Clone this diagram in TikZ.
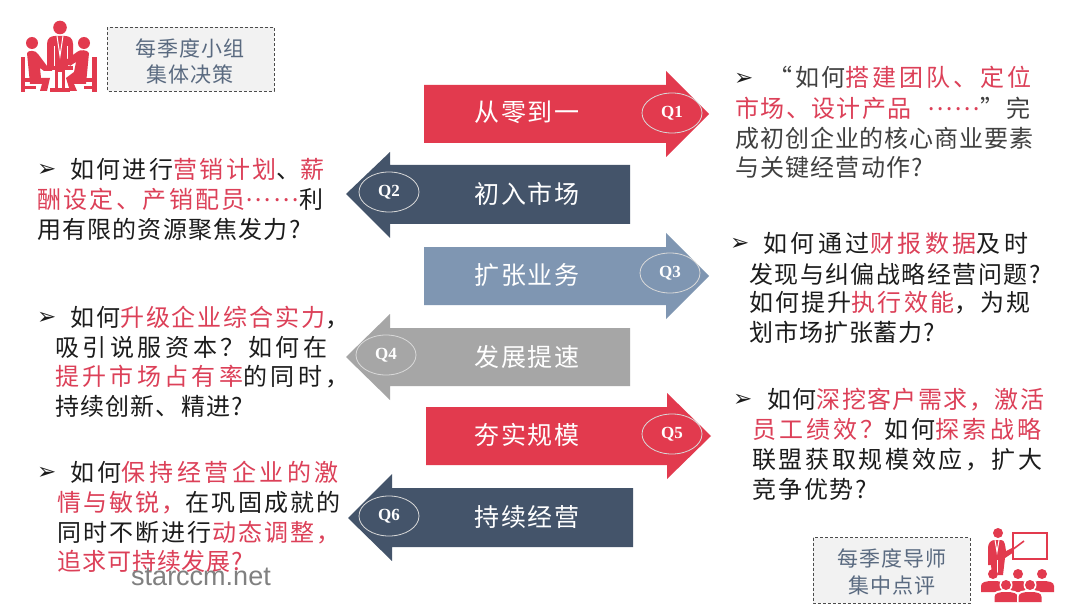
\documentclass[tikz,border=0pt]{standalone}
\usepackage{fontspec}
\usepackage{xcolor}
\setmainfont{Noto Sans CJK SC}
\newfontfamily\bulfont{DejaVu Sans}
\newfontfamily\qfont{Liberation Serif}
\newfontfamily\wmfont{Liberation Sans}
\definecolor{ared}{HTML}{E23A4E}
\definecolor{anavy}{HTML}{44546A}
\definecolor{ablue}{HTML}{7F96B2}
\definecolor{agray}{HTML}{A6A6A6}
\definecolor{tred}{HTML}{DC4058}
\definecolor{tblack}{HTML}{1C1C1C}
\definecolor{tdark}{HTML}{404040}
\definecolor{boxtext}{HTML}{5A6A80}
\definecolor{boxfill}{HTML}{F2F2F2}
\newcommand{\RR}[1]{\textcolor{tred}{#1}}
\newcommand{\FC}{\symbol{"FF0C}}
\newcommand{\FQ}{\symbol{"FF1F}}
\newcommand{\dotsup}{\raisebox{7pt}{……}}
\newcommand{\tline}[5]{\node[tl] (#1) at (#2,#3+8.6) {\addfontfeature{LetterSpace=#4}#5};}
\newcommand{\bull}[3]{\node[bl] (#1) at (#2,#3) {\bulfont ➢};}
% arrows: #1 colour, #2 rect far x, #3 head base x, #4 tip x, #5 rect top, #6 rect bottom, #7 head top, #8 head bottom, #9 centre y
\newcommand{\harrow}[9]{\fill[#1] (#2,#5) -- (#3,#5) -- (#3,#7) -- (#4,#9) -- (#3,#8) -- (#3,#6) -- (#2,#6) -- cycle;}
\tikzset{
  tl/.style={anchor=base west,inner sep=0pt,text=tblack,font=\fontsize{24}{28}\selectfont},
  bl/.style={anchor=west,inner sep=0pt,text=tblack,font=\fontsize{23}{26}\selectfont},
  banner/.style={inner sep=0pt,text=white,font=\fontsize{25}{28}\selectfont},
  qmark/.style={draw=white!85!black,line width=0.8pt,ellipse,minimum width=60pt,minimum height=40pt,inner sep=0pt,text=white,font=\fontsize{17}{20}\selectfont\qfont\bfseries},
  notebox/.style={draw=black!70,densely dashed,line width=0.8pt,fill=boxfill,inner sep=0pt},
  boxlabel/.style={inner sep=0pt,text=boxtext,font=\fontsize{21}{24}\selectfont},
  iconfill/.style={fill=ared},
  iconcut/.style={draw=white,line width=1pt}
}
\usetikzlibrary{shapes.geometric}
\begin{document}
\begin{tikzpicture}[x=1pt,y=-1pt]
\useasboundingbox (0,0) rectangle (1080,615);
\fill[white] (0,0) rectangle (1080,615);
% ---- banners
\harrow{ared}{424}{666}{709}{85}{143}{71}{157}{114}
\harrow{anavy}{630}{390}{346}{165}{224}{152}{238}{194}
\harrow{ablue}{424}{666}{709}{247}{305}{233}{319}{276}
\harrow{agray}{630}{390}{346}{328}{386}{314}{400}{357}
\harrow{ared}{426}{667}{711}{407}{465}{393}{479}{436}
\harrow{anavy}{633}{392}{348}{488}{547}{474}{561}{518}
\node[banner] (b1) at (527,112) {\addfontfeature{LetterSpace=6}从零到一};
\node[banner] (b2) at (527,194) {\addfontfeature{LetterSpace=6}初入市场};
\node[banner] (b3) at (527,275) {\addfontfeature{LetterSpace=6}扩张业务};
\node[banner] (b4) at (527,357) {\addfontfeature{LetterSpace=6}发展提速};
\node[banner] (b5) at (527,435) {\addfontfeature{LetterSpace=6}夯实规模};
\node[banner] (b6) at (527,517) {\addfontfeature{LetterSpace=6}持续经营};
\node[qmark] (q1) at (672,113) {Q1};
\node[qmark] (q2) at (389,192) {Q2};
\node[qmark] (q3) at (670,273) {Q3};
\node[qmark] (q4) at (386,355) {Q4};
\node[qmark] (q5) at (672,434) {Q5};
\node[qmark] (q6) at (389,516) {Q6};
% ---- Q1 text
\bull{bq1}{734}{79}
\tline{q1a}{768}{78}{12}{\textcolor{tdark}{“如何}\RR{搭建团队、定位}}
\tline{q1b}{735}{109}{6}{\RR{市场、设计产品\hspace{16pt}\dotsup}\textcolor{tdark}{”\hspace{2pt}完}}
\tline{q1c}{735}{139}{4}{\textcolor{tdark}{成初创企业的核心商业要素}}
\tline{q1d}{735}{168}{5}{\textcolor{tdark}{与关键经营动作?}}
% ---- Q2 text
\bull{bq2}{37}{170}
\tline{q2a}{70}{170}{10}{如何进行\RR{营销计划}、\RR{薪}}
\tline{q2b}{37}{200}{10}{\RR{酬设定、产销配员\dotsup}利}
\tline{q2c}{37}{230}{5}{用有限的资源聚焦发力?}
% ---- Q3 text
\bull{bq3}{730}{244}
\tline{q3a}{763}{244}{15}{如何通过\RR{财报数据}及时}
\tline{q3b}{749}{275}{6}{发现与纠偏战略经营问题?}
\tline{q3c}{749}{303}{9}{如何提升\RR{执行效能}\FC 为规}
\tline{q3d}{749}{333}{4}{划市场扩张蓄力?}
% ---- Q4 text
\bull{bq4}{37}{318}
\tline{q4a}{70}{318}{8}{如何\RR{升级企业综合实力}\FC}
\tline{q4b}{55}{348}{15}{吸引说服资本\FQ 如何在}
\tline{q4c}{55}{377}{14}{\RR{提升市场占有率}的同时\FC}
\tline{q4d}{55}{407}{5}{持续创新、精进?}
% ---- Q5 text
\bull{bq5}{733}{400}
\tline{q5a}{767}{400}{6}{如何\RR{深挖客户需求\FC 激活}}
\tline{q5b}{752}{430}{13}{\RR{员工绩效\FQ}如何\RR{探索战略}}
\tline{q5c}{752}{460}{11}{联盟获取规模效应\FC 扩大}
\tline{q5d}{752}{490}{8}{竞争优势?}
% ---- Q6 text
\bull{bq6}{37}{473}
\tline{q6a}{70}{473}{15}{如何\RR{保持经营企业的激}}
\tline{q6b}{57}{503}{9}{\RR{情与敏锐\FC}在巩固成就的}
\tline{q6c}{57}{533}{9}{同时不断进行\RR{动态调整\FC}}
\tline{q6d}{57}{562}{4}{\RR{追求可持续发展?}}
% ---- note boxes
\path[notebox] (107,27.5) rectangle (274,91);
\node[boxlabel] (n1a) at (190,48) {\addfontfeature{LetterSpace=5}每季度小组};
\node[boxlabel] (n1b) at (190,75) {\addfontfeature{LetterSpace=5}集体决策};
\path[notebox] (813,537.5) rectangle (970,603);
\node[boxlabel] (n2a) at (892,558) {\addfontfeature{LetterSpace=5}每季度导师};
\node[boxlabel] (n2b) at (892,585) {\addfontfeature{LetterSpace=5}集中点评};
% ---- watermark
\node[inner sep=0pt,text=black!50,font=\fontsize{27}{30}\selectfont\wmfont] (wm) at (201,577) {starccm.net};
% ---- icon: meeting
\fill[iconfill] (60,27.5) circle (6.8);
\fill[iconfill] (32,43) circle (6);
\fill[iconfill] (84,43) circle (6);
\fill[iconfill] (47,68) -- (47,44) .. controls (47,38) and (51,36) .. (55,36) -- (65,36) .. controls (69,36) and (73,38) .. (73,44) -- (73,60) -- (66,68) -- cycle;
\draw[iconcut] (57,36) -- (60,56) -- (63,36);
\draw[iconcut] (54,46) -- (54,68);
\draw[iconcut] (67,46) -- (67,62);
% left person
\fill[iconfill] (27,53) .. controls (28,50) and (36,50) .. (38,54) -- (47,66) -- (52,66) -- (52,71) -- (44,71) -- (40,68) -- (41,78) -- (50,78) -- (47,91) -- (40,91) -- (42,84) -- (30,84) -- cycle;
\fill[iconfill] (20.5,57) rectangle (24.5,92);
\fill[iconfill] (24,78) rectangle (33,82);
\fill[iconfill] (24,86) rectangle (36,89);
% right person
\fill[iconfill] (89,53) .. controls (88,50) and (80,49) .. (77,52) -- (66,60) -- (70,66) -- (76,62) -- (74,72) -- (66,78) -- (70,91) -- (77,91) -- (74,84) -- (86,84) -- cycle;
\fill[iconfill] (92,57) rectangle (97,92);
\fill[iconfill] (86,78) rectangle (93,82);
\fill[iconfill] (84,86) rectangle (93,89);
% table
\fill[iconfill] (47,66) rectangle (73,70);
\fill[iconfill] (55,70) rectangle (58,88);
\fill[iconfill] (62,70) rectangle (65,88);
\fill[iconfill] (50,88) rectangle (70,92);
\fill[iconfill] (58,70) rectangle (62,72);
% ---- icon: teacher
\draw[ared,line width=2.6pt] (1013,533) rectangle (1047,559);
\fill[iconfill] (998,533) circle (5);
\fill[iconfill] (988,565) -- (988,548) .. controls (988,543) and (991,540) .. (995,540) -- (1001,540) .. controls (1005,540) and (1005,545) .. (1006,551) -- (1012,548) -- (1014,552) -- (1005,558) -- (1003,575) -- (992,575) -- (991,565) -- cycle;
\draw[iconcut] (995,540) -- (997,552) -- (999,540);
\draw[iconcut,line width=0.7pt] (997,560) -- (997,575);
\draw[ared,line width=1.6pt] (1012,550) -- (1024,541);
\foreach \hx/\hn in {993/a,1018/b,1042/c}{
  \fill[iconfill] (\hx,574) circle (5);
  \fill[iconfill] (\hx-12,592) -- (\hx-12,586) .. controls (\hx-12,582) and (\hx-7,581) .. (\hx,581) .. controls (\hx+7,581) and (\hx+12,582) .. (\hx+12,586) -- (\hx+12,592) -- cycle;
}
\foreach \hx/\hn in {1006/d,1030/e}{
  \fill[white] (\hx,585) circle (6.5);
  \fill[iconfill] (\hx,585) circle (5);
  \fill[white] (\hx-13,602) -- (\hx-13,596) .. controls (\hx-13,591) and (\hx-7,590) .. (\hx,590) .. controls (\hx+7,590) and (\hx+13,591) .. (\hx+13,596) -- (\hx+13,602) -- cycle;
  \fill[iconfill] (\hx-11.5,602) -- (\hx-11.5,597) .. controls (\hx-11.5,593) and (\hx-7,592) .. (\hx,592) .. controls (\hx+7,592) and (\hx+11.5,593) .. (\hx+11.5,597) -- (\hx+11.5,602) -- cycle;
}
\end{tikzpicture}
\end{document}
